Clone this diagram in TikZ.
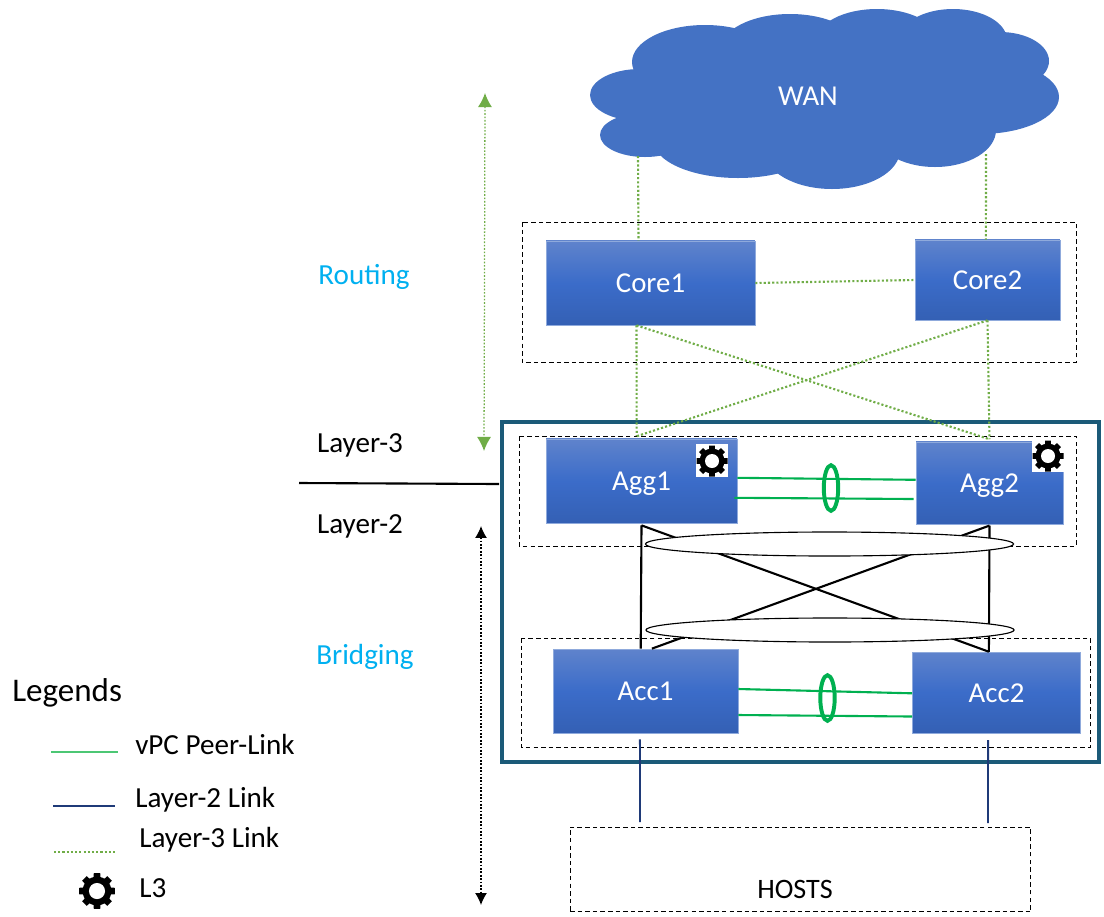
\documentclass[tikz,border=0pt]{standalone}
\usepackage{fontspec}
\setmainfont{Carlito}
\usetikzlibrary{calc, shapes.geometric, arrows.meta}

\definecolor{cloudblue}{HTML}{4472C4}
\definecolor{boxtop}{HTML}{5F83CC}
\definecolor{boxmid}{HTML}{3B6CC9}
\definecolor{boxbottom}{HTML}{3460B4}
\definecolor{boxline}{HTML}{8FAADC}
\definecolor{peergreen}{HTML}{00B050}
\definecolor{legendgreen}{HTML}{4CC774}
\definecolor{dotgreen}{HTML}{70AD47}
\definecolor{linkblue}{HTML}{1F3A78}
\definecolor{frameteal}{HTML}{1B5A78}
\definecolor{labelblue}{HTML}{00B0F0}

\tikzset{
	switchbox/.style={rectangle, draw=boxline, line width=.5pt, top color=boxtop,
		bottom color=boxbottom, middle color=boxmid, text=white, inner sep=0pt,
		text height=14pt, text depth=0pt, font=\fontsize{20.5}{24}\selectfont},
	groupbox/.style={draw=black, line width=.7pt, dash pattern=on 3.2pt off 2.2pt},
	l3link/.style={draw=dotgreen, line width=1.5pt, dash pattern=on 1.5pt off 1.5pt},
	l2link/.style={draw=linkblue, line width=1.3pt},
	peerlink/.style={draw=peergreen, line width=1.5pt},
	uplink/.style={draw=black, line width=1.5pt},
	bundle/.style={ellipse, draw=black, fill=white, line width=.8pt, inner sep=0pt,
		minimum width=9.2cm, minimum height=.6cm},
	peerring/.style={ellipse, draw=peergreen, line width=2.8pt, inner sep=0pt,
		minimum width=.36cm, minimum height=1.14cm},
	plaintext/.style={inner sep=0pt, text height=14pt, text depth=0pt,
		font=\fontsize{20.7}{24}\selectfont},
	bluetext/.style={plaintext, text=labelblue},
	gearicon/.pic={
		\foreach \a in {0,45,...,315}
			\fill[black, rotate=\a] (-3.6,0) -- (-2.8,15.5) -- (2.8,15.5) -- (3.6,0) -- cycle;
		\fill[black] (0,0) circle (12.5);
		\fill[white] (0,0) circle (7);
	}
}

\begin{document}
\begin{tikzpicture}[x=.025cm, y=-.025cm]
	\useasboundingbox (0, 0) rectangle (1104, 916);

	% cloud
	\foreach \cx/\cy/\rx/\ry in {640/95/50/26, 705/62/73/37, 790/50/70/36, 877/40/60/31,
		953/40/54/31, 1000/61/49/29, 980/97/79/37, 935/130/61/37, 832/150/68/39,
		738/140/85/38, 645/135/45/22, 820/95/190/65}
		\fill[cloudblue] (\cx, \cy) ellipse [x radius=\rx, y radius=\ry];
	\node (WAN) at (808, 96) [text=white, inner sep=0pt, font=\fontsize{20.5}{24}\selectfont] {WAN};
	\coordinate (wanL) at (638, 156);
	\coordinate (wanR) at (986, 154);

	% frame and dashed groups
	\draw[frameteal, line width=2.2pt] (502, 422) rectangle (1099, 762);
	\draw[groupbox] (522, 222) rectangle (1076, 362);
	\draw[groupbox] (519, 436) rectangle (1076, 546);
	\draw[groupbox] (521, 638) rectangle (1090, 747);

	% switches
	\node (Core1) at (650.5, 283) [switchbox, minimum width=5.22cm, minimum height=2.1cm] {Core1};
	\node (Core2) at (987.5, 280) [switchbox, minimum width=3.62cm, minimum height=2cm] {Core2};
	\node (Agg1) at (641.5, 481) [switchbox, minimum width=4.77cm, minimum height=2.1cm] {Agg1};
	\node (Agg2) at (989.5, 483) [switchbox, minimum width=3.67cm, minimum height=2.05cm] {Agg2};
	\node (Acc1) at (645.5, 691) [switchbox, minimum width=4.62cm, minimum height=2.1cm] {Acc1};
	\node (Acc2) at (996.5, 692.5) [switchbox, minimum width=4.2cm, minimum height=2.02cm] {Acc2};

	% hosts
	\node (Hosts) at (800.5, 869.5) [groupbox, rectangle, inner sep=0pt, minimum width=11.52cm,
		minimum height=2.12cm] {};
	\node (HostsText) at (795, 889) [inner sep=0pt, font=\fontsize{20}{24}\selectfont] {HOSTS};

	% layer-3 links
	\draw[l3link] (wanL) -- ([xshift=-.3cm]Core1.north);
	\draw[l3link] (wanR) -- ([xshift=-.04cm]Core2.north);
	\draw[l3link] (Core1.east) -- (Core2.west);
	\draw[l3link] ([xshift=-.35cm]Core1.south) -- ([xshift=-.12cm, yshift=.06cm]Agg1.north);
	\draw[l3link] (Core2.south) -- ([yshift=.06cm]Agg2.north);
	\draw[l3link] ([xshift=-.35cm]Core1.south) -- ([yshift=.06cm]Agg2.north);
	\draw[l3link] (Core2.south) -- ([xshift=-.12cm, yshift=.06cm]Agg1.north);

	% uplinks
	\coordinate (aggL) at ([yshift=-.05cm]Agg1.south);
	\coordinate (aggR) at ([yshift=-.03cm]Agg2.south);
	\draw[uplink] (aggL) -- ([xshift=-.12cm]Acc1.north);
	\draw[uplink] (aggR) -- ([xshift=-.19cm]Acc2.north);
	\draw[uplink] (aggL) -- ([xshift=-.19cm]Acc2.north);
	\draw[uplink] (aggR) -- ([xshift=.16cm]Acc1.north);
	\node (BundleTop) at (829.5, 544) [bundle] {};
	\node (BundleBottom) at (830, 630) [bundle] {};

	% peer links
	\draw[peerlink] ([yshift=.08cm]Agg1.east) -- ([yshift=.08cm]Agg2.west);
	\draw[peerlink] ([xshift=-.07cm, yshift=-.42cm]Agg1.east) -- ([xshift=-.05cm, yshift=-.4cm]Agg2.west);
	\node (RingAgg) at (831, 488) [peerring] {};
	\draw[peerlink] ([yshift=.05cm]Acc1.east) -- ([yshift=-.02cm]Acc2.west);
	\draw[peerlink] ([yshift=-.6cm]Acc1.east) -- ([yshift=-.6cm]Acc2.west);
	\node (RingAcc) at (827.5, 698) [peerring] {};

	% layer-2 links to the hosts
	\coordinate (hostL) at (640, 822);
	\coordinate (hostR) at (988, 823);
	\draw[l2link] ([xshift=-.14cm, yshift=-.15cm]Acc1.south) -- (hostL);
	\draw[l2link] ([xshift=-.21cm, yshift=-.17cm]Acc2.south) -- (hostR);

	% gears on the aggregation switches
	\fill[white] (696, 444) rectangle (728, 477);
	\fill[white] (1032, 439) rectangle (1064, 472);
	\pic at (712, 461) {gearicon};
	\pic at (1048, 456) {gearicon};

	% side labels
	\node (Routing) at (364, 275) [bluetext] {Routing};
	\node (Bridging) at (365, 655) [bluetext] {Bridging};
	\node (Layer3) at (360, 443) [plaintext] {Layer-3};
	\node (Layer2) at (360, 524) [plaintext] {Layer-2};
	\coordinate (splitL) at (299, 483);
	\coordinate (splitR) at (499, 484);
	\draw[black, line width=1.5pt] (splitL) -- (splitR);

	% range arrows
	\coordinate (routeTop) at (485, 93);
	\coordinate (routeBottom) at (484, 451);
	\coordinate (bridgeTop) at (481, 526);
	\coordinate (bridgeBottom) at (481, 905);
	\draw[{Latex[length=10pt, width=10pt]}-{Latex[length=10pt, width=10pt]}, dotgreen, line width=.9pt,
		dash pattern=on 1.2pt off 1.2pt] (routeTop) -- (routeBottom);
	\draw[{Latex[length=8.5pt, width=8.5pt]}-{Latex[length=8.5pt, width=8.5pt]}, black, line width=.9pt,
		dash pattern=on 1.2pt off 1.2pt] (bridgeTop) -- (bridgeBottom);

	% legend
	\node (Legends) at (12, 693) [anchor=west, inner sep=0pt, font=\fontsize{23.5}{28}\selectfont] {Legends};
	\node (LegPeer) at (135, 745) [plaintext, anchor=west] {vPC Peer-Link};
	\node (LegL2) at (135, 798) [plaintext, anchor=west] {Layer-2 Link};
	\node (LegL3) at (139, 838) [plaintext, anchor=west] {Layer-3 Link};
	\node (LegGear) at (139, 888) [plaintext, anchor=west] {L3};
	\coordinate (a1) at (51, 752);
	\coordinate (a2) at (118, 752);
	\coordinate (b1) at (53, 806);
	\coordinate (b2) at (115, 806);
	\coordinate (c1) at (54, 852);
	\coordinate (c2) at (116, 852);
	\draw[legendgreen, line width=1.5pt] (a1) -- (a2);
	\draw[l2link] (b1) -- (b2);
	\draw[l3link, line width=1.1pt] (c1) -- (c2);
	\pic[scale=1.15] at (97, 891) {gearicon};
\end{tikzpicture}
\end{document}
